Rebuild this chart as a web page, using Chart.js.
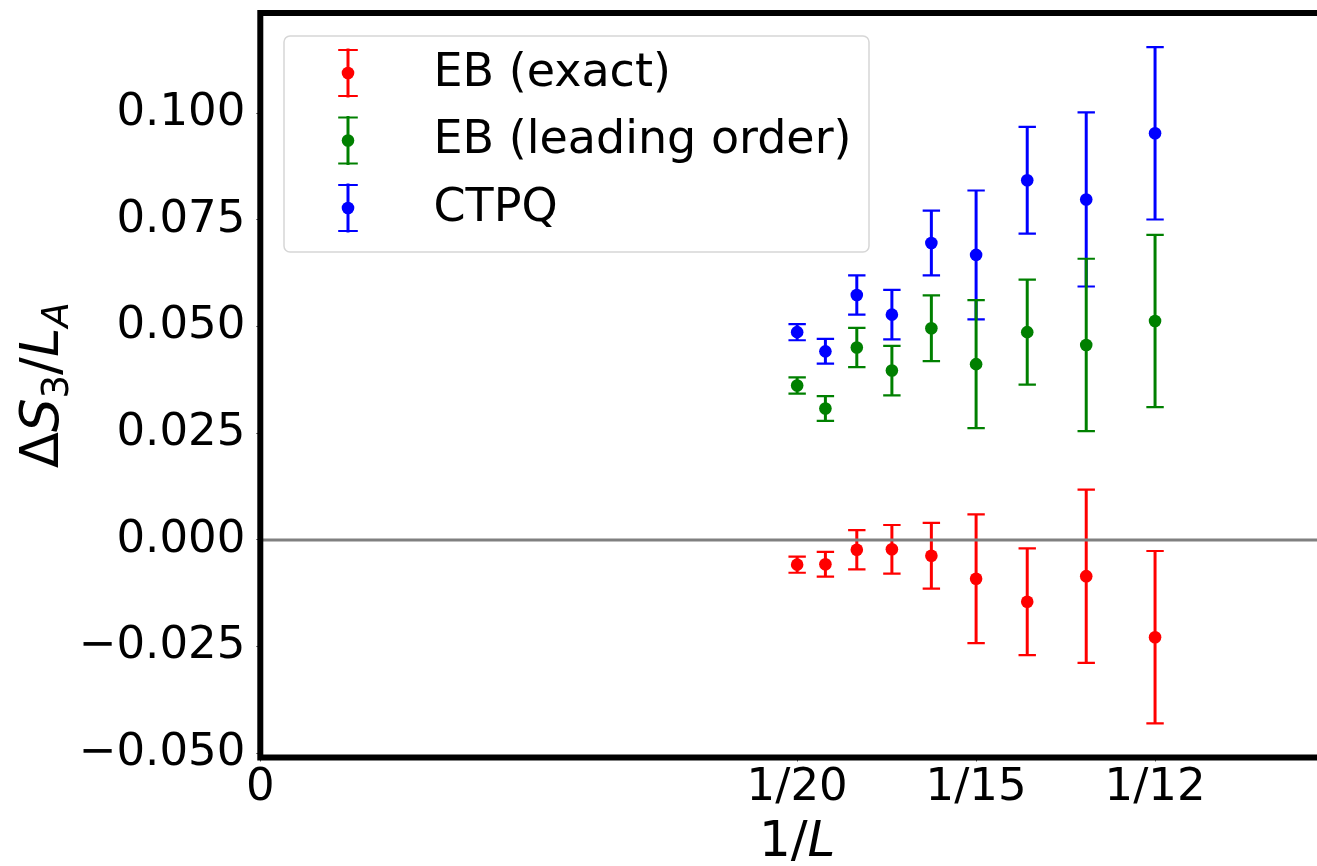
<!DOCTYPE html>
<html>
<head>
<meta charset="utf-8">
<script src="https://cdn.jsdelivr.net/npm/chart.js@4.4.1/dist/chart.umd.min.js"></script>
<style>
  html, body { margin: 0; padding: 0; background: #fff; overflow: hidden; }
  #wrap { width: 1317px; height: 866px; overflow: hidden; position: relative; }
  canvas { display: block; }
</style>
</head>
<body>
<div id="wrap"><canvas id="myChart" width="1345" height="900"></canvas></div>
<script>
// system sizes L, plotted at x = 1/L
const sizesL = [20, 19, 18, 17, 16, 15, 14, 13, 12];

const exactVals = [-0.0058, -0.0057, -0.0023, -0.0022, -0.0037, -0.0091, -0.0145, -0.0085, -0.0228];
const exactErr = [0.0019, 0.0029, 0.0046, 0.0057, 0.0077, 0.0151, 0.0125, 0.0203, 0.0202];

const leadingVals = [0.0362, 0.0308, 0.0451, 0.0397, 0.0496, 0.0412, 0.0487, 0.0457, 0.0513];
const leadingErr = [0.0019, 0.0029, 0.0046, 0.0058, 0.0077, 0.0150, 0.0123, 0.0202, 0.0202];

const ctpqVals = [0.0487, 0.0442, 0.0574, 0.0528, 0.0696, 0.0668, 0.0843, 0.0798, 0.0953];
const ctpqErr = [0.0019, 0.0029, 0.0046, 0.0058, 0.0076, 0.0151, 0.0125, 0.0204, 0.0202];

const xTickValues = [0, 1 / 20, 1 / 15, 1 / 12];
const xTickLabels = ['0', '1/20', '1/15', '1/12'];
const yTickValues = [-0.05, -0.025, 0, 0.025, 0.05, 0.075, 0.1];
const yTickLabels = ['\u22120.050', '\u22120.025', '0.000', '0.025', '0.050', '0.075', '0.100'];

const FONT = "'DejaVu Sans', sans-serif";

function makeSet(label, vals, errs, color) {
    return {
        label: label,
        data: sizesL.map((L, i) => ({ x: 1 / L, y: vals[i], err: errs[i] })),
        backgroundColor: color,
        borderColor: color,
        pointRadius: 6.3,
        pointBorderWidth: 0,
        showLine: false
    };
}

function drawErrorBar(ctx, x, yTop, yBot, color) {
    ctx.strokeStyle = color;
    ctx.lineWidth = 3;
    ctx.beginPath();
    ctx.moveTo(x, yTop);
    ctx.lineTo(x, yBot);
    ctx.stroke();
    ctx.lineWidth = 2.2;
    ctx.beginPath();
    ctx.moveTo(x - 8.7, yTop);
    ctx.lineTo(x + 8.7, yTop);
    ctx.moveTo(x - 8.7, yBot);
    ctx.lineTo(x + 8.7, yBot);
    ctx.stroke();
}

const errorBars = {
    id: 'errorBars',
    beforeDatasetDraw(chart, args) {
        const ctx = chart.ctx;
        const ds = chart.data.datasets[args.index];
        const xs = chart.scales.x, ys = chart.scales.y;
        ctx.save();
        ds.data.forEach(p => {
            const px = xs.getPixelForValue(p.x);
            drawErrorBar(ctx, px, ys.getPixelForValue(p.y + p.err), ys.getPixelForValue(p.y - p.err), ds.borderColor);
        });
        ctx.restore();
    }
};

const zeroLine = {
    id: 'zeroLine',
    afterDatasetsDraw(chart) {
        const ctx = chart.ctx, a = chart.chartArea;
        const y0 = chart.scales.y.getPixelForValue(0);
        ctx.save();
        ctx.strokeStyle = '#808080';
        ctx.lineWidth = 3;
        ctx.beginPath();
        ctx.moveTo(a.left, y0);
        ctx.lineTo(a.right, y0);
        ctx.stroke();
        ctx.restore();
    }
};

// text pieces: [text, italic, subscript]
function drawMath(ctx, parts, size) {
    let w = 0;
    const widths = parts.map(p => {
        ctx.font = (p[1] ? 'italic ' : '') + (p[2] ? size * 0.7 : size) + 'px ' + FONT;
        const m = ctx.measureText(p[0]).width;
        w += m;
        return m;
    });
    let x = -w / 2;
    parts.forEach((p, i) => {
        ctx.font = (p[1] ? 'italic ' : '') + (p[2] ? size * 0.7 : size) + 'px ' + FONT;
        ctx.fillText(p[0], x, p[2] ? size * 0.19 : 0);
        x += widths[i];
    });
}

const frame = {
    id: 'frame',
    afterDraw(chart) {
        const ctx = chart.ctx, a = chart.chartArea;
        ctx.save();
        // spines
        ctx.strokeStyle = '#000';
        ctx.lineWidth = 6;
        ctx.lineCap = 'square';
        ctx.beginPath();
        ctx.moveTo(a.right, a.top);
        ctx.lineTo(a.left, a.top);
        ctx.lineTo(a.left, a.bottom);
        ctx.lineTo(a.right, a.bottom);
        ctx.stroke();

        // axis titles
        ctx.fillStyle = '#000';
        ctx.textBaseline = 'alphabetic';
        ctx.textAlign = 'left';
        ctx.save();
        ctx.translate((a.left + a.right) / 2, 856);
        drawMath(ctx, [['1/', false, false], ['L', true, false]], 50);
        ctx.restore();

        ctx.save();
        ctx.translate(58, (a.top + a.bottom) / 2);
        ctx.rotate(-Math.PI / 2);
        drawMath(ctx, [['\u0394', false, false], ['S', true, false], ['3', false, true],
                       ['/', false, false], ['L', true, false], ['A', true, true]], 53);
        ctx.restore();

        // legend
        const bx = 284, by = 36, bw = 585, bh = 216, r = 6;
        ctx.beginPath();
        ctx.moveTo(bx + r, by);
        ctx.arcTo(bx + bw, by, bx + bw, by + bh, r);
        ctx.arcTo(bx + bw, by + bh, bx, by + bh, r);
        ctx.arcTo(bx, by + bh, bx, by, r);
        ctx.arcTo(bx, by, bx + bw, by, r);
        ctx.closePath();
        ctx.fillStyle = 'rgba(255,255,255,0.8)';
        ctx.fill();
        ctx.strokeStyle = '#d6d6d6';
        ctx.lineWidth = 1.5;
        ctx.stroke();

        chart.data.datasets.forEach((ds, i) => {
            const cy = 73 + i * 67.5;
            drawErrorBar(ctx, 348, cy - 23, cy + 23, ds.borderColor);
            ctx.fillStyle = ds.backgroundColor;
            ctx.beginPath();
            ctx.arc(348, cy, 6.3, 0, Math.PI * 2);
            ctx.fill();
            ctx.fillStyle = '#000';
            ctx.font = '46px ' + FONT;
            ctx.textBaseline = 'middle';
            ctx.fillText(ds.label, 433.5, cy + 1);
        });
        ctx.restore();
    }
};

function noPad(s) {
    s.paddingTop = 0;
    s.paddingBottom = 0;
    s.paddingLeft = 0;
    s.paddingRight = 0;
}

const ctx = document.getElementById('myChart').getContext('2d');

new Chart(ctx, {
    type: 'scatter',
    data: {
        datasets: [
            makeSet('EB (exact)', exactVals, exactErr, '#ff0000'),
            makeSet('EB (leading order)', leadingVals, leadingErr, '#008000'),
            makeSet('CTPQ', ctpqVals, ctpqErr, '#0000ff')
        ]
    },
    options: {
        responsive: false,
        animation: false,
        events: [],
        layout: { padding: { top: 13, right: 11, left: 0, bottom: 0 } },
        plugins: {
            legend: { display: false },
            tooltip: { enabled: false }
        },
        scales: {
            x: {
                type: 'linear',
                min: 0,
                max: 0.1,
                afterBuildTicks: s => { s.ticks = xTickValues.map(v => ({ value: v })); },
                afterFit: s => { s.height = 142.5; noPad(s); },
                ticks: {
                    autoSkip: false,
                    maxRotation: 0,
                    padding: 0,
                    color: '#000',
                    font: { family: FONT, size: 45 },
                    callback: (v, i) => xTickLabels[i]
                },
                grid: { drawOnChartArea: false, tickLength: 4, color: '#555', lineWidth: 1 },
                border: { display: false }
            },
            y: {
                type: 'linear',
                min: -0.051,
                max: 0.1235,
                afterBuildTicks: s => { s.ticks = yTickValues.map(v => ({ value: v })); },
                afterFit: s => { s.width = 260.3; noPad(s); },
                ticks: {
                    autoSkip: false,
                    padding: 11,
                    color: '#000',
                    font: { family: FONT, size: 45 },
                    callback: (v, i) => yTickLabels[i]
                },
                grid: { drawOnChartArea: false, tickLength: 4, color: '#555', lineWidth: 1 },
                border: { display: false }
            }
        }
    },
    plugins: [errorBars, zeroLine, frame]
});
</script>
</body>
</html>
